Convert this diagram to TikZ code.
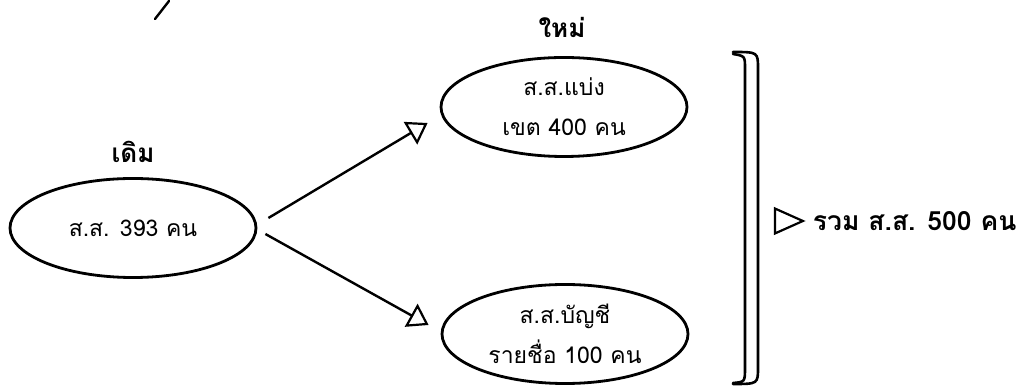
\documentclass[tikz,border=0pt]{standalone}
\usepackage{fontspec}
\usepackage{tikz}
\usetikzlibrary{calc,arrows.meta,shapes.geometric,positioning}
\newfontfamily\thaifont[Script=Thai]{Loma}
\definecolor{ink}{HTML}{000000}
\tikzset{
  oval/.style={ellipse, draw=ink, line width=2.8pt, minimum width=246pt, minimum height=99pt, inner sep=0pt, align=center, font=\thaifont\fontsize{23}{40}\selectfont},
  head/.style={text=ink, inner sep=0pt, font=\thaifont\bfseries\fontsize{26}{30}\selectfont},
  link/.style={draw=ink, line width=2.4pt, -{Triangle[open, length=20pt, width=26pt, line width=2.2pt]}},
  brk/.style={draw=ink, line width=2.6pt, line cap=round},
  pen/.style={draw=ink, line width=2.4pt, line cap=round},
}
\begin{document}
\begin{tikzpicture}[x=1pt,y=1pt]
  \useasboundingbox (0,0) rectangle (1027,387);
  \node[oval] (old) at (133,159) {ส.ส. 393 คน};
  \node[oval] (new1) at (564,280) {ส.ส.แบ่ง\\เขต 400 คน};
  \node[oval] (new2) at (565,53) {ส.ส.บัญชี\\รายชื่อ 100 คน};
  \node[head] (oldlab) at (133,235) {เดิม};
  \node[head] (newlab) at (562,360) {ใหม่};
  \draw[link] ([shift={(11,10)}]old.east) -- ([shift={(-12,-16)}]new1.west);
  \draw[link] ([shift={(8,-6)}]old.east) -- ([shift={(-12,9)}]new2.west);
  % double bracket
  \draw[brk] (733,335) .. controls (758,335) .. (758,318) -- (758,20) .. controls (758,3) .. (733,3);
  \draw[brk] (733,333) .. controls (745,331) .. (745,318) -- (745,20) .. controls (745,5) .. (733,4);
  \node[isosceles triangle, isosceles triangle stretches=true, draw=ink, line width=2.2pt,
        minimum height=28pt, minimum width=25pt, inner sep=0pt] (tri) at (783,166) {};
  \node[head, font=\thaifont\bfseries\fontsize{26.5}{30}\selectfont, right=7pt of tri] (total) {รวม ส.ส. 500 คน};
  % pen marks at the top
  \draw[pen] (155,368) -- (169,386);
\end{tikzpicture}
\end{document}
